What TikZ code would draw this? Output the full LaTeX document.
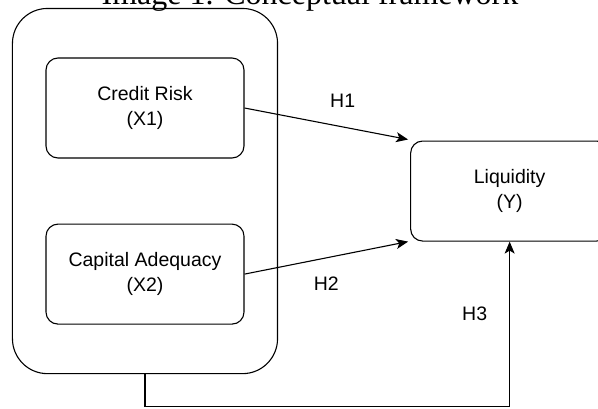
\documentclass[tikz,border=0pt]{standalone}
\usepackage{fontspec}
\setmainfont{Liberation Serif}
\newfontfamily\boxfont{Liberation Sans}
\usetikzlibrary{arrows.meta}
\usetikzlibrary{positioning, fit}

\begin{document}
\begin{tikzpicture}[->,>={Stealth[length=12pt,width=10pt,inset=3pt]},line width=1.1pt,
    var node/.style={rectangle,draw,rounded corners=12pt,minimum width=198pt,minimum height=100pt,align=center,font=\boxfont\fontsize{19.5}{25}\selectfont},
    group node/.style={rectangle,draw,rounded corners=35pt,inner xsep=33pt,inner ysep=49pt},
    hyp label/.style={font=\boxfont\fontsize{19.5}{23}\selectfont}]

    \useasboundingbox (-145pt,108pt) rectangle (453pt,-300pt);

    \node[var node] (credit) {Credit Risk\\(X1)};
    \node[var node] (capital) [below=65pt of credit] {Capital Adequacy\\(X2)};
    \node[group node, fit=(credit)(capital)] (group) {};
    \node[var node] (liq) [right=132pt of group] {Liquidity\\(Y)};

    \node[font=\fontsize{32}{38}\selectfont, anchor=base] (title) at (165pt,104pt) {Image 1. Conceptual framework};

    \path
      (credit.east)  edge node[hyp label, pos=0.6, yshift=26pt]  {H1} ([xshift=-2pt,yshift=1pt]liq.north west)
      (capital.east) edge node[hyp label, pos=0.5, yshift=-26pt] {H2} ([xshift=-2pt]liq.south west);
    \draw (group.south) -- ++(0,-32pt) -| node[hyp label, pos=0.78, xshift=-35pt] {H3} (liq.south);
\end{tikzpicture}
\end{document}
